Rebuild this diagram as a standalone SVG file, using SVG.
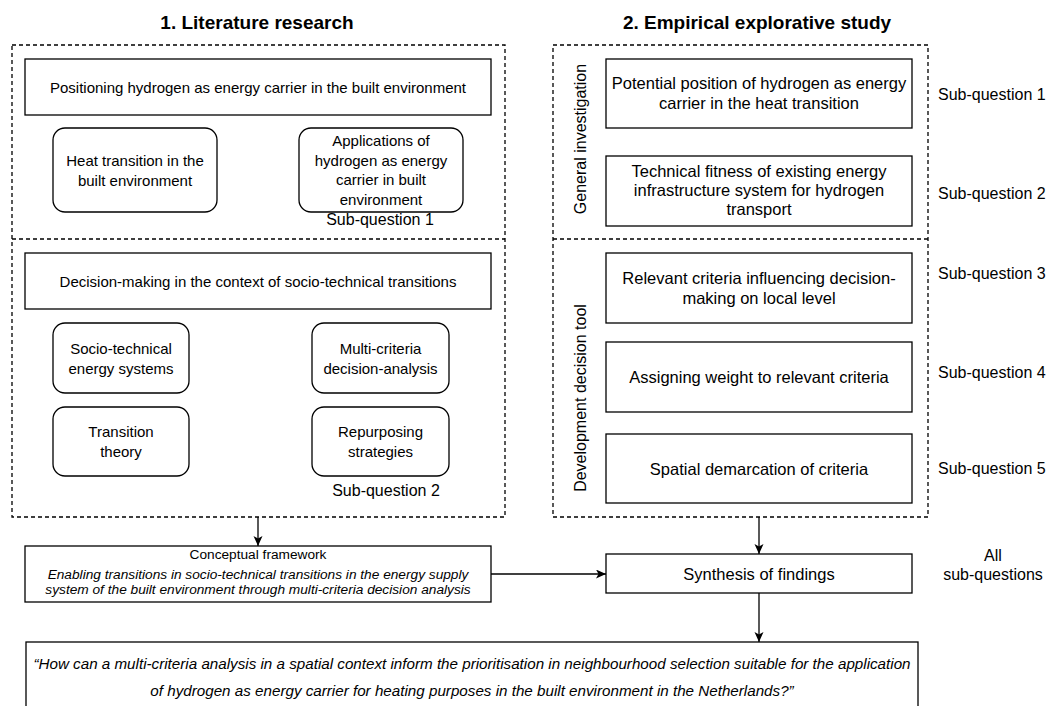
<svg xmlns="http://www.w3.org/2000/svg" width="1052" height="706" viewBox="0 0 1052 706">
<style>
text{font-family:"Liberation Sans",Arial,Helvetica,sans-serif;fill:#000;}
.title{font-size:19px;font-weight:bold;text-anchor:middle;}
.l{font-size:15px;text-anchor:middle;}
.r{font-size:16.5px;text-anchor:middle;}
.sq{font-size:16px;}
.sqc{font-size:16px;text-anchor:middle;}
.c{font-size:13.7px;text-anchor:middle;}
.ci{font-size:13.7px;font-style:italic;text-anchor:middle;}
.q{font-size:15.2px;font-style:italic;text-anchor:middle;}
.box{fill:#fff;stroke:#000;stroke-width:1.3;}
.dash{fill:none;stroke:#000;stroke-width:1.3;stroke-dasharray:4 3;}
.conn{fill:none;stroke:#000;stroke-width:1.3;}
</style>
<defs>
<marker id="arr" markerUnits="userSpaceOnUse" markerWidth="12" markerHeight="10" refX="10" refY="4.5" orient="auto">
<path d="M0,0 L10,4.5 L0,9 L2.5,4.5 z" fill="#000"/>
</marker>
</defs>
<rect width="1052" height="706" fill="#fff"/>

<g id="titles">
<text class="title" x="257" y="29">1. Literature research</text>
<text class="title" x="757" y="29">2. Empirical explorative study</text>
</g>

<g id="lit-container">
<rect class="dash" x="12" y="45" width="493" height="472"/>
<line class="dash" x1="12" y1="239" x2="505" y2="239"/>
</g>

<g id="lit-positioning">
<rect class="box" x="25" y="59" width="466" height="56"/>
<text class="l" x="258" y="92.5">Positioning hydrogen as energy carrier in the built environment</text>
</g>
<g id="lit-heat">
<rect class="box" x="53" y="128" width="164" height="84" rx="12"/>
<text class="l" x="135" y="166">Heat transition in the</text>
<text class="l" x="135" y="185.5">built environment</text>
</g>
<g id="lit-applications">
<rect class="box" x="299" y="128" width="164" height="84" rx="12"/>
<text class="l" x="381" y="146">Applications of</text>
<text class="l" x="381" y="165.5">hydrogen as energy</text>
<text class="l" x="381" y="185">carrier in built</text>
<text class="l" x="381" y="204.5">environment</text>
</g>
<g id="lit-sq1"><text class="sqc" x="380" y="225">Sub-question 1</text></g>

<g id="lit-decision">
<rect class="box" x="25" y="253" width="466" height="56"/>
<text class="l" x="258" y="286.5">Decision-making in the context of socio-technical transitions</text>
</g>
<g id="lit-socio">
<rect class="box" x="53" y="323" width="136" height="70" rx="12"/>
<text class="l" x="121" y="353.5">Socio-technical</text>
<text class="l" x="121" y="373.5">energy systems</text>
</g>
<g id="lit-mcda">
<rect class="box" x="312" y="323" width="137" height="70" rx="12"/>
<text class="l" x="380.5" y="353.5">Multi-criteria</text>
<text class="l" x="380.5" y="373.5">decision-analysis</text>
</g>
<g id="lit-transition">
<rect class="box" x="53" y="407" width="136" height="69" rx="12"/>
<text class="l" x="121" y="437">Transition</text>
<text class="l" x="121" y="456.5">theory</text>
</g>
<g id="lit-repurposing">
<rect class="box" x="312" y="407" width="137" height="69" rx="12"/>
<text class="l" x="380.5" y="437">Repurposing</text>
<text class="l" x="380.5" y="456.5">strategies</text>
</g>
<g id="lit-sq2"><text class="sqc" x="386" y="496">Sub-question 2</text></g>

<g id="emp-container">
<rect class="dash" x="553" y="45" width="375" height="472"/>
<line class="dash" x1="553" y1="239" x2="928" y2="239"/>
<text class="sqc" transform="translate(586,139) rotate(-90)" x="0" y="0">General investigation</text>
<text class="sqc" transform="translate(586,398) rotate(-90)" x="0" y="0">Development decision tool</text>
</g>

<g id="emp-potential">
<rect class="box" x="606" y="59" width="306" height="69"/>
<text class="r" x="759" y="89">Potential position of hydrogen as energy</text>
<text class="r" x="759" y="109">carrier in the heat transition</text>
</g>
<g id="emp-technical">
<rect class="box" x="606" y="156" width="306" height="70"/>
<text class="r" x="759" y="177">Technical fitness of existing energy</text>
<text class="r" x="759" y="196">infrastructure system for hydrogen</text>
<text class="r" x="759" y="215">transport</text>
</g>
<g id="emp-criteria">
<rect class="box" x="606" y="253" width="306" height="70"/>
<text class="r" x="759" y="284">Relevant criteria influencing decision-</text>
<text class="r" x="759" y="304">making on local level</text>
</g>
<g id="emp-weight">
<rect class="box" x="606" y="342" width="306" height="70"/>
<text class="r" x="759" y="383">Assigning weight to relevant criteria</text>
</g>
<g id="emp-spatial">
<rect class="box" x="606" y="434" width="306" height="69"/>
<text class="r" x="759" y="475">Spatial demarcation of criteria</text>
</g>

<g id="sq-labels">
<text class="sq" x="938" y="99.5">Sub-question 1</text>
<text class="sq" x="938" y="198.5">Sub-question 2</text>
<text class="sq" x="938" y="278.5">Sub-question 3</text>
<text class="sq" x="938" y="377.5">Sub-question 4</text>
<text class="sq" x="938" y="473.5">Sub-question 5</text>
</g>

<g id="conceptual">
<rect class="box" x="25" y="546" width="466" height="56"/>
<text class="c" x="258" y="559">Conceptual framework</text>
<text class="ci" x="258" y="579">Enabling transitions in socio-technical transitions in the energy supply</text>
<text class="ci" x="258" y="594">system of the built environment through multi-criteria decision analysis</text>
</g>

<g id="synthesis">
<rect class="box" x="606" y="554" width="306" height="39"/>
<text class="r" x="759" y="579.5">Synthesis of findings</text>
</g>
<g id="all-sq">
<text class="sqc" x="993" y="561">All</text>
<text class="sqc" x="993" y="580">sub-questions</text>
</g>

<g id="research-question">
<rect class="box" x="26" y="642" width="892" height="80"/>
<text class="q" x="472" y="669">“How can a multi-criteria analysis in a spatial context inform the prioritisation in neighbourhood selection suitable for the application</text>
<text class="q" x="472" y="696">of hydrogen as energy carrier for heating purposes in the built environment in the Netherlands?”</text>
</g>

<g id="connectors">
<line class="conn" x1="258" y1="517" x2="258" y2="546" marker-end="url(#arr)"/>
<line class="conn" x1="491" y1="574" x2="606" y2="574" marker-end="url(#arr)"/>
<line class="conn" x1="759" y1="517" x2="759" y2="554" marker-end="url(#arr)"/>
<line class="conn" x1="759" y1="593" x2="759" y2="642" marker-end="url(#arr)"/>
</g>
</svg>
